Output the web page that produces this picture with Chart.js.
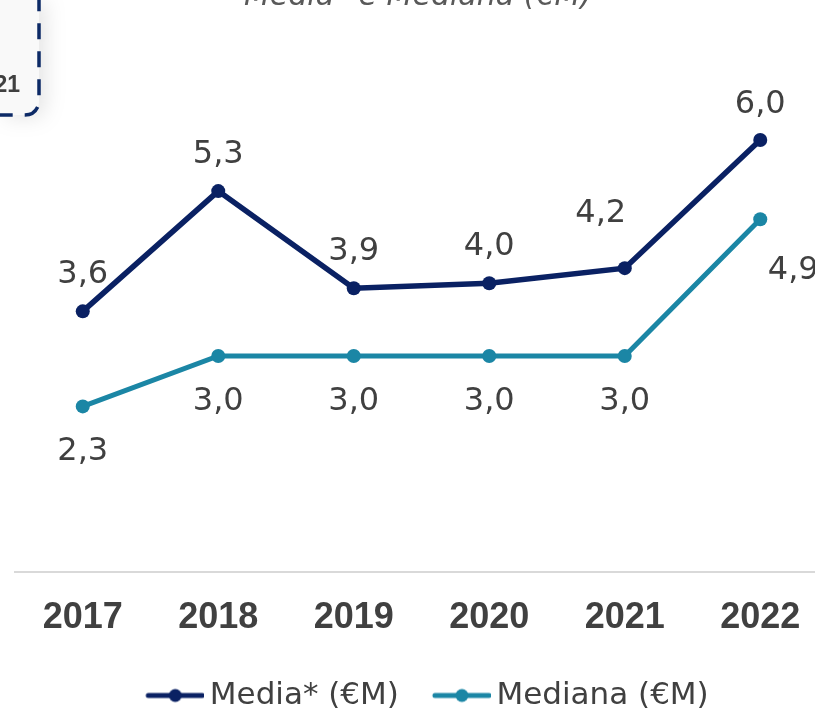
<!DOCTYPE html>
<html>
<head>
<meta charset="utf-8">
<script src="https://cdn.jsdelivr.net/npm/chart.js@4/dist/chart.umd.min.js"></script>
<style>
  html, body { margin:0; padding:0; background:#fff; overflow:hidden; }
  #wrap { position:relative; width:815px; height:711px; overflow:hidden; background:#fff; }
  #chart { position:absolute; left:0; top:0; }
  #title { position:absolute; left:0; top:-20px; width:836px; text-align:center;
           font: oblique 30px "DejaVu Sans", sans-serif; line-height:30px;
           color:#595959; white-space:nowrap; }
  #boxsvg { position:absolute; left:0; top:0; filter: drop-shadow(6px 2px 10px rgba(0,0,0,0.10)); }
  #boxtxt { position:absolute; right:795px; top:72px; font: bold 23px "Liberation Sans", Arial, sans-serif;
            color:#404040; line-height:24px; white-space:nowrap; }
</style>
</head>
<body>
<div id="wrap">
  <canvas id="chart" width="835" height="721" style="width:835px;height:721px"></canvas>
  <div id="title">Media* e Mediana (€M)</div>
  <svg id="boxsvg" width="90" height="140" viewBox="0 0 90 140">
    <rect x="-200" y="-60" width="239" height="175" rx="14" ry="14" fill="#f9f9f9"
          stroke="#0d2a66" stroke-width="3.5" stroke-dasharray="16 12" stroke-dashoffset="6"/>
  </svg>
  <div id="boxtxt">21</div>
</div>
<script>
const categories = ['2017', '2018', '2019', '2020', '2021', '2022'];
const mediaValues = [3.62, 5.29, 3.94, 4.01, 4.22, 6.0];
const medianaValues = [2.3, 3.0, 3.0, 3.0, 3.0, 4.9];
const seriesNames = ['Media* (€M)', 'Mediana (€M)'];

const colors = ['#0a2163', '#1b86a5'];
const textColor = '#404040';
const FONT = '"DejaVu Sans", sans-serif';
const TICK_FONT = '"Liberation Sans", Arial, sans-serif';

// label offsets relative to point (dx, baseline dy)
const labelOffsets = [
  [[0,-28],[0,-28],[0,-28],[0,-28],[-24,-46],[0,-27]],
  [[0,54],[0,54],[0,54],[0,54],[0,54],[33,60]]
];

function makeMarker(color) {
  const W = 76, H = 20;
  const c = document.createElement('canvas');
  c.width = W; c.height = H;
  const g = c.getContext('2d');
  g.strokeStyle = color; g.lineWidth = 5; g.lineCap = 'round';
  g.beginPath(); g.moveTo(W - 56, H/2); g.lineTo(W - 2, H/2); g.stroke();
  g.fillStyle = color;
  g.beginPath(); g.arc(W - 29, H/2, 6.5, 0, Math.PI*2); g.fill();
  return c;
}
const markers = colors.map(makeMarker);

const dataLabelPlugin = {
  id: 'dataLabels',
  afterDatasetsDraw(chart) {
    const ctx = chart.ctx;
    ctx.save();
    ctx.font = '32px ' + FONT;
    ctx.fillStyle = textColor;
    ctx.textAlign = 'center';
    ctx.textBaseline = 'alphabetic';
    chart.data.datasets.forEach((ds, i) => {
      const meta = chart.getDatasetMeta(i);
      meta.data.forEach((pt, j) => {
        const v = ds.data[j];
        const txt = v.toFixed(1).replace('.', ',');
        const off = labelOffsets[i][j];
        ctx.fillText(txt, pt.x + off[0], pt.y + off[1]);
      });
    });
    ctx.restore();
  }
};

new Chart(document.getElementById('chart'), {
  type: 'line',
  data: {
    labels: categories,
    datasets: [
      { label: seriesNames[0], data: mediaValues, borderColor: colors[0], backgroundColor: colors[0],
        borderWidth: 5.5, pointRadius: 7, pointHoverRadius: 7, pointBackgroundColor: colors[0],
        pointBorderWidth: 0, tension: 0, fill: false },
      { label: seriesNames[1], data: medianaValues, borderColor: colors[1], backgroundColor: colors[1],
        borderWidth: 5, pointRadius: 7, pointHoverRadius: 7, pointBackgroundColor: colors[1],
        pointBorderWidth: 0, tension: 0, fill: false }
    ]
  },
  options: {
    responsive: false,
    animation: false,
    devicePixelRatio: 1,
    layout: { padding: { left: 15, right: 3, top: 68, bottom: 0 } },
    scales: {
      x: {
        offset: true,
        grid: { display: false, drawTicks: false, offset: true },
        border: { display: true, color: '#d9d9d9', width: 2 },
        ticks: { color: textColor, font: { family: TICK_FONT, size: 36, weight: 'bold' }, padding: 24, maxRotation: 0 },
        afterFit(scale) { scale.height = 82; }
      },
      y: { display: false, min: 0, max: 7 }
    },
    plugins: {
      legend: {
        position: 'bottom',
        labels: {
          usePointStyle: true,
          pointStyleWidth: 56,
          padding: 26,
          color: textColor,
          font: { family: FONT, size: 31 },
          generateLabels(chart) {
            const items = Chart.defaults.plugins.legend.labels.generateLabels(chart);
            items.forEach((it, i) => { it.pointStyle = markers[i]; });
            return items;
          }
        }
      },
      title: { display: false },
      tooltip: { enabled: false }
    }
  },
  plugins: [dataLabelPlugin]
});
</script>
</body>
</html>
